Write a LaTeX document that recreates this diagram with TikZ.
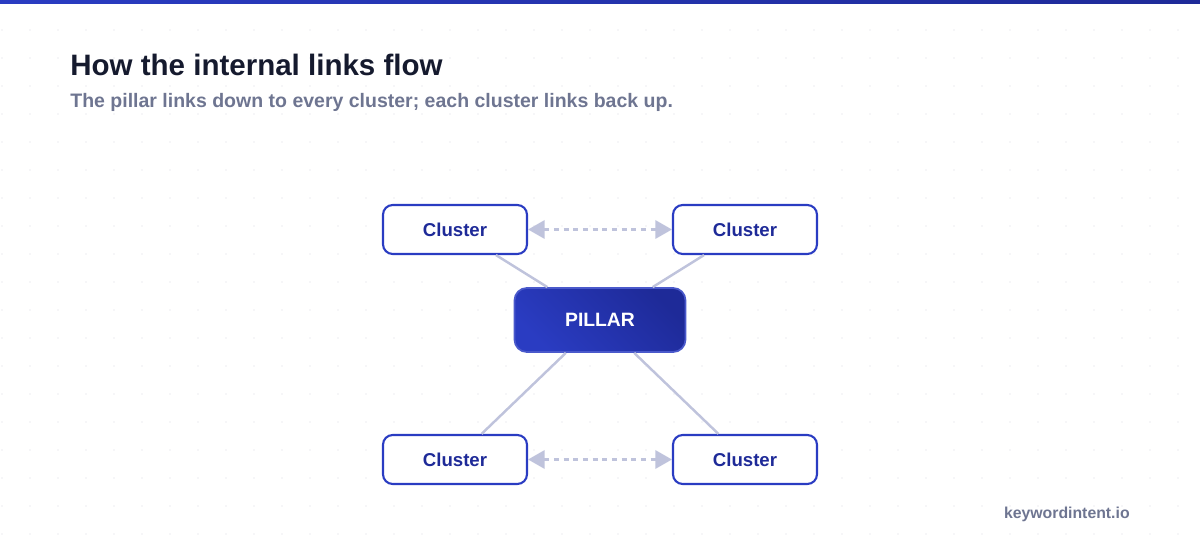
\documentclass[tikz,border=0pt]{standalone}
\usepackage{fontspec}
\setmainfont{Liberation Sans}
\usetikzlibrary{arrows.meta}

\definecolor{brand}{HTML}{2A3CC2}
\definecolor{branddark}{HTML}{1E2A98}
\definecolor{ink}{HTML}{151A2E}
\definecolor{muted}{HTML}{6E7591}
\definecolor{linkline}{HTML}{BFC3DC}
\definecolor{dotgrey}{HTML}{EDEDF0}

\tikzset{
  cluster/.style={draw=brand, line width=1.2pt, fill=white, rounded corners=5.5pt,
    minimum width=2.88cm, minimum height=0.98cm, text=branddark,
    font=\fontsize{10.6}{12}\selectfont\bfseries},
  pillar/.style={draw=brand!85!white, line width=1pt, rounded corners=7pt,
    left color=brand, right color=branddark, shading angle=135,
    minimum width=3.42cm, minimum height=1.28cm, text=white,
    font=\fontsize{11}{13}\selectfont\bfseries},
  uplink/.style={draw=linkline, line width=1.4pt},
  sidelink/.style={draw=linkline, line width=1.2pt, dash pattern=on 3pt off 2.5pt,
    {Triangle[length=9.5pt,width=10.5pt,fill=linkline]}-{Triangle[length=9.5pt,width=10.5pt,fill=linkline]}},
  caption/.style={inner sep=0pt, text=muted}
}

\begin{document}
\begin{tikzpicture}[x=0.02cm, y=-0.02cm]
  \useasboundingbox (0,0) rectangle (1200,540);
  % dotted backdrop and top bar
  \foreach \i in {0,...,42}
    \foreach \j in {0,...,19}
      \fill[dotgrey] (2+28*\i, 2+28*\j) circle (0.9);
  \shade[left color=brand, right color=branddark] (0,0) rectangle (1200,4);

  % heading
  \node[anchor=base west, inner sep=0pt, text=ink, font=\fontsize{16.8}{20}\selectfont\bfseries]
    (title) at (70,76) {How the internal links flow};
  \node[caption, anchor=base west, font=\fontsize{11.1}{13}\selectfont\bfseries]
    (subtitle) at (70,108) {The pillar links down to every cluster; each cluster links back up.};

  % hub and spokes
  \node[pillar] (p) at (600,320) {PILLAR};
  \node[cluster] (c1) at (455,229.5) {Cluster};
  \node[cluster] (c2) at (745,229.5) {Cluster};
  \node[cluster] (c3) at (455,459.5) {Cluster};
  \node[cluster] (c4) at (745,459.5) {Cluster};

  \foreach \c in {c1,c2,c3,c4}
    \draw[uplink] (p) -- (\c);
  \draw[sidelink] (c1) -- (c2);
  \draw[sidelink] (c3) -- (c4);

  \node[caption, anchor=base east, font=\fontsize{9}{11}\selectfont\bfseries]
    (site) at (1130,518) {keywordintent.io};
\end{tikzpicture}
\end{document}
